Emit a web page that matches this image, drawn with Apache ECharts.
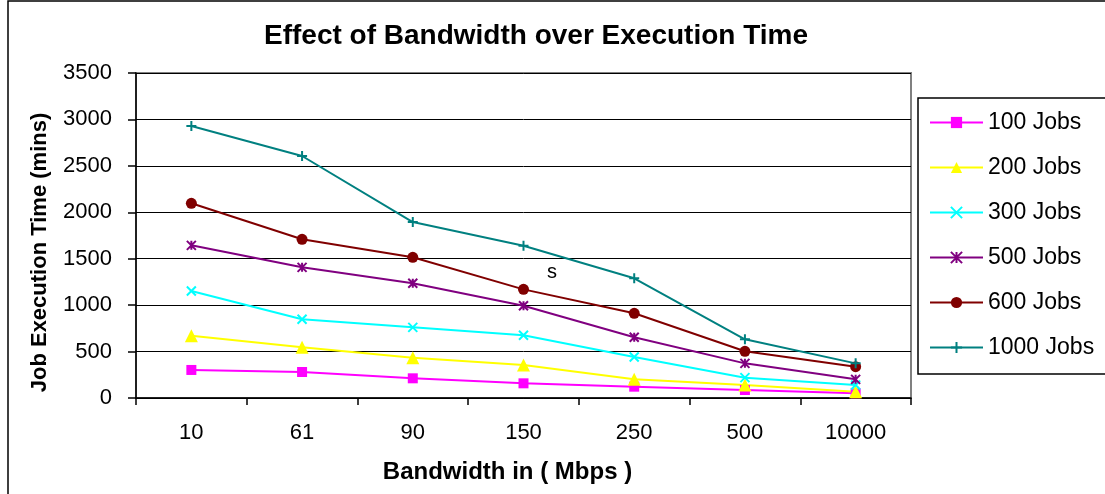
<!DOCTYPE html>
<html>
<head>
<meta charset="utf-8">
<script src="https://cdn.jsdelivr.net/npm/echarts@6/dist/echarts.min.js"></script>
<style>
html,body{margin:0;padding:0;background:#fff;}
#main{width:1105px;height:494px;}
</style>
</head>
<body>
<div id="main"></div>
<script>
var categories = ['10', '61', '90', '150', '250', '500', '10000'];
var seriesNames = ['100 Jobs', '200 Jobs', '300 Jobs', '500 Jobs', '600 Jobs', '1000 Jobs'];
var jobs100 = [302, 280, 212, 158, 122, 86, 50];
var jobs200 = [670, 546, 434, 355, 201, 140, 68];
var jobs300 = [1152, 848, 761, 675, 441, 219, 140];
var jobs500 = [1644, 1407, 1235, 994, 654, 373, 201];
var jobs600 = [2097, 1709, 1515, 1170, 912, 503, 337];
var jobs1000 = [2930, 2606, 1895, 1640, 1289, 632, 373];
var yTicks = [0, 500, 1000, 1500, 2000, 2500, 3000, 3500];

var FONT = 'Arial, "Liberation Sans", sans-serif';
var chart = echarts.init(document.getElementById('main'), null, {renderer: 'canvas'});

function mk(name, data, color, symbol, size, strokeSym) {
  return {
    name: name,
    type: 'line',
    data: data,
    symbol: symbol,
    symbolSize: size,
    showSymbol: true,
    animation: false,
    lineStyle: {color: color, width: 2},
    itemStyle: strokeSym ? {color: color, borderColor: color, borderWidth: 2} : {color: color, borderWidth: 0},
    emphasis: {disabled: true}
  };
}

var XSYM = 'path://M0,0L10,10M10,0L0,10';
var STAR = 'path://M0,0L10,10M10,0L0,10M5,0L5,10';
var PLUS = 'path://M5,0L5,10M0,5L10,5';

var option = {
  backgroundColor: '#fff',
  animation: false,
  title: {
    text: 'Effect of Bandwidth over Execution Time',
    left: 264,
    top: 22,
    padding: 0,
    textStyle: {fontFamily: FONT, fontSize: 28, fontWeight: 'bold', color: '#000'}
  },
  legend: {
    orient: 'vertical',
    left: 918,
    top: 98,
    padding: [13, 12, 15, 11],
    itemGap: 22,
    itemWidth: 53,
    itemHeight: 14,
    borderColor: '#000',
    borderWidth: 1.5,
    data: seriesNames,
    textStyle: {fontFamily: FONT, fontSize: 23, color: '#000'}
  },
  grid: {
    left: 136, right: 194, top: 73, bottom: 96,
    show: true, borderColor: '#808080', borderWidth: 2, backgroundColor: '#fff'
  },
  xAxis: {
    type: 'category',
    data: categories,
    boundaryGap: true,
    name: 'Bandwidth in ( Mbps )',
    nameLocation: 'middle',
    nameGap: 62,
    nameTextStyle: {fontFamily: FONT, fontSize: 24, fontWeight: 'bold', color: '#000', padding: [0, 32, 0, 0]},
    axisLine: {lineStyle: {color: '#000', width: 1.5}},
    axisTick: {show: true, alignWithLabel: false, length: 7, lineStyle: {color: '#000', width: 1.5}},
    axisLabel: {fontFamily: FONT, fontSize: 22, color: '#000', margin: 24},
    splitLine: {show: false}
  },
  yAxis: {
    type: 'value',
    min: yTicks[0],
    max: yTicks[yTicks.length - 1],
    interval: 500,
    name: 'Job Execution Time (mins)',
    nameLocation: 'middle',
    nameGap: 85,
    nameTextStyle: {fontFamily: FONT, fontSize: 22, fontWeight: 'bold', color: '#000', padding: [0, 34, 0, 0]},
    axisLine: {show: true, lineStyle: {color: '#000', width: 1.5}},
    axisTick: {show: true, length: 8, lineStyle: {color: '#000', width: 1.5}},
    axisLabel: {fontFamily: FONT, fontSize: 22, color: '#000', margin: 24,
      formatter: function (v) { return String(v); }},
    splitLine: {show: true, lineStyle: {color: '#000', width: 1}}
  },
  graphic: [
    {type: 'rect', silent: true, z: 100,
     shape: {x: 8, y: 1, width: 1200, height: 600},
     style: {fill: 'none', stroke: '#000', lineWidth: 1.5}},
    {type: 'text', silent: true, z: 100, left: 547, top: 262,
     style: {text: 's', font: '20px ' + FONT, fill: '#000'}}
  ],
  series: [
    mk(seriesNames[0], jobs100, '#FF00FF', 'rect', 10, false),
    mk(seriesNames[1], jobs200, '#FFFF00', 'triangle', 13, false),
    mk(seriesNames[2], jobs300, '#00FFFF', XSYM, 9, true),
    mk(seriesNames[3], jobs500, '#800080', STAR, 9, true),
    mk(seriesNames[4], jobs600, '#800000', 'circle', 11, false),
    mk(seriesNames[5], jobs1000, '#008080', PLUS, 10, true)
  ]
};
chart.setOption(option);
</script>
</body>
</html>
